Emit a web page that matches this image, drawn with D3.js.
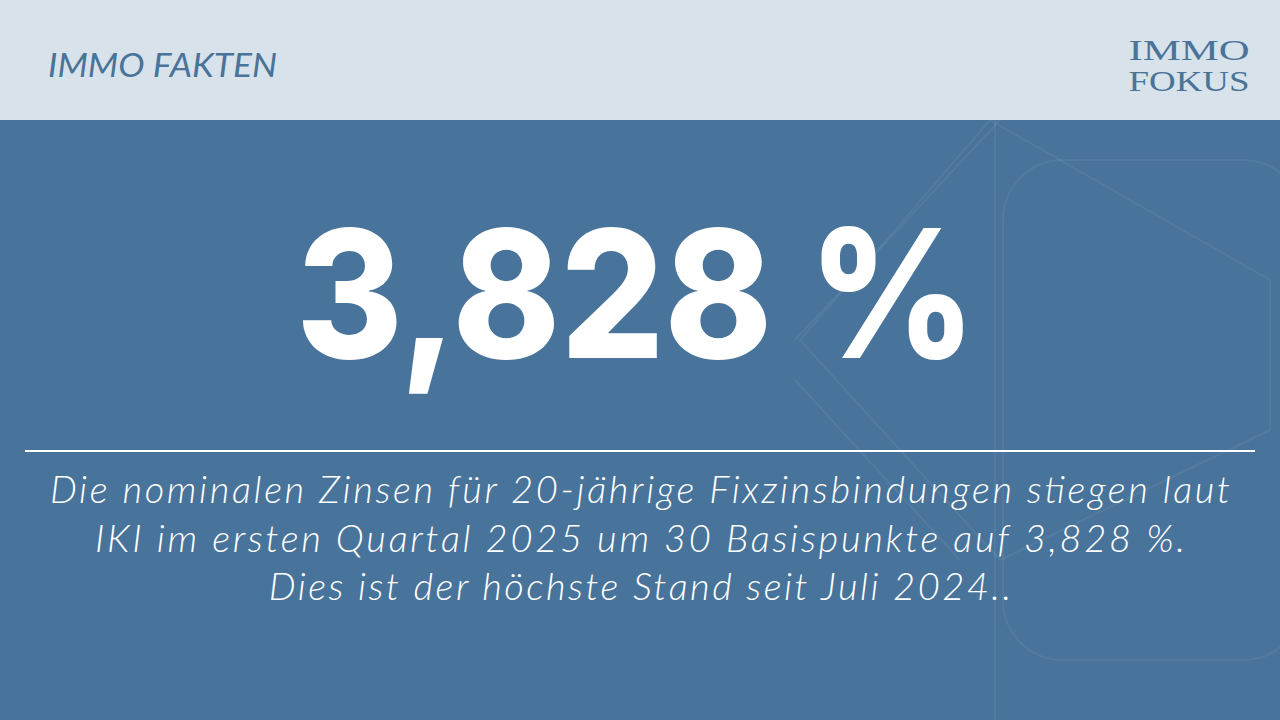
<!DOCTYPE html>
<html><head><meta charset="utf-8">
<script src="https://cdn.jsdelivr.net/npm/d3@7"></script>
<style>body{margin:0}svg{display:block}</style></head>
<body><svg id="card" width="1280" height="720"></svg>
<script>
const headline = "3,828 %";
const label = "IMMO FAKTEN";
const logoLines = ["IMMO", "FOKUS"];
const bodyLines = [
  "Die nominalen Zinsen für 20-jährige Fixzinsbindungen stiegen laut",
  "IKI im ersten Quartal 2025 um 30 Basispunkte auf 3,828 %.",
  "Dies ist der höchste Stand seit Juli 2024.."
];

const svg = d3.select("#card");
svg.append("rect").attr("width", 1280).attr("height", 720).attr("fill", "#48739a");
svg.append("rect").attr("width", 1280).attr("height", 120).attr("fill", "#d7e2ea");

// faint background shapes
const deco = svg.append("g").attr("fill", "none").attr("stroke", "#ffffff").attr("stroke-opacity", 0.06).attr("stroke-width", 2);
deco.append("rect").attr("x", 1003).attr("y", 160).attr("width", 300).attr("height", 500).attr("rx", 60);
deco.append("path").attr("d", "M800,340 L990,120 L1270,280 L1270,430 L1000,560 Z").attr("stroke-linejoin", "round");
deco.append("path").attr("d", "M795,380 L960,560 M795,340 L1000,120");
deco.append("line").attr("x1", 995).attr("y1", 120).attr("x2", 995).attr("y2", 720);

svg.append("text").attr("x", 48).attr("y", 77)
  .attr("font-family", "Lato").attr("font-style", "italic").attr("font-size", 32)
  .attr("textLength", 229).attr("lengthAdjust", "spacingAndGlyphs")
  .attr("fill", "#4a7399").text(label);

svg.selectAll(".logo").data(logoLines).join("text")
  .attr("x", 1189).attr("y", (d, i) => 60 + i * 31)
  .attr("text-anchor", "middle").attr("textLength", 121).attr("lengthAdjust", "spacingAndGlyphs")
  .attr("font-family", "Liberation Serif").attr("font-size", 30)
  .attr("fill", "#4a7399").text(d => d);

svg.append("text").attr("x", 636).attr("y", 358).attr("text-anchor", "middle")
  .attr("font-family", "Inter").attr("font-weight", 800).attr("font-size", 178)
  .attr("textLength", 680).attr("lengthAdjust", "spacingAndGlyphs")
  .attr("fill", "#ffffff").text(headline);

svg.append("line").attr("x1", 25).attr("x2", 1255).attr("y1", 451).attr("y2", 451)
  .attr("stroke", "#ffffff").attr("stroke-width", 2);

const y = d3.scalePoint().domain(d3.range(bodyLines.length)).range([503, 600]);
const body = svg.selectAll(".body").data(bodyLines).join("text")
  .attr("x", 640).attr("y", (d, i) => y(i)).attr("text-anchor", "middle")
  .attr("font-family", "Lato").attr("font-style", "italic").attr("font-weight", 300)
  .attr("font-size", 38).attr("fill", "#ffffff").text(d => d);
const nodes = body.nodes();
const ratio = 1180 / nodes[0].getComputedTextLength();
nodes.forEach(n => n.setAttribute("textLength", n.getComputedTextLength() * ratio));
</script></body></html>
